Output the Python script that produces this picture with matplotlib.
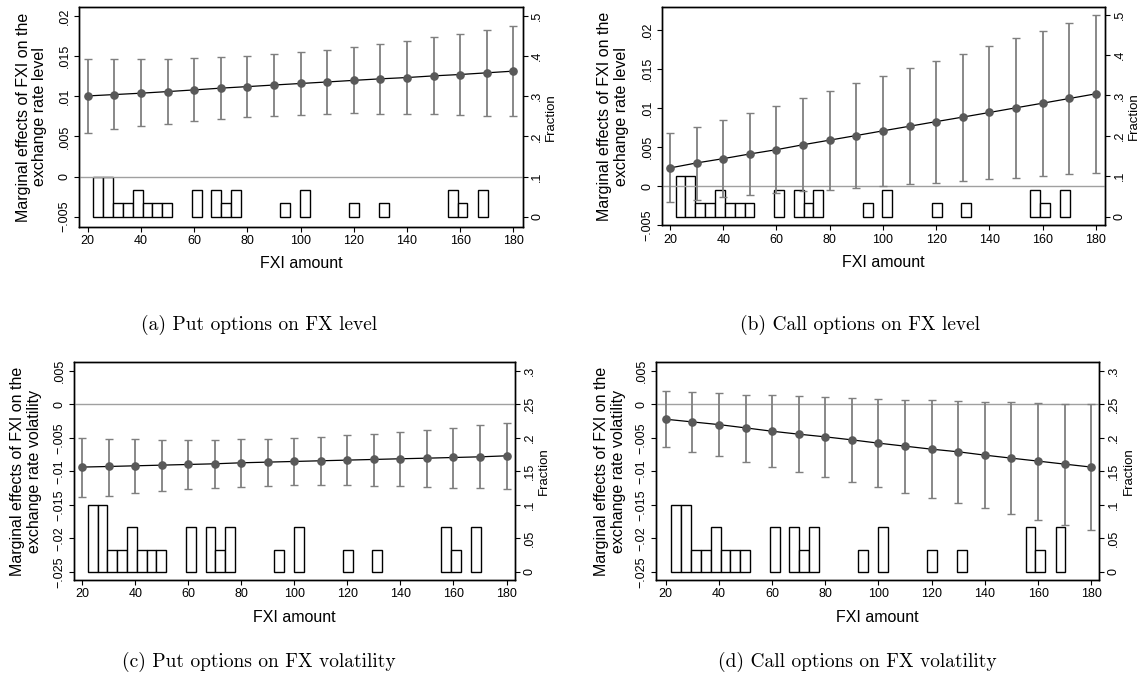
import matplotlib
matplotlib.use('Agg')
import matplotlib.pyplot as plt
from matplotlib.ticker import FuncFormatter
import numpy as np

plt.rcParams['font.family'] = ['Liberation Sans', 'DejaVu Sans']

# FXI amount grid for the marginal effects
fxi = [20, 30, 40, 50, 60, 70, 80, 90, 100, 110, 120, 130, 140, 150, 160, 170, 180]

# histogram of FXI amount (fraction of observations), same in every panel
hist_mid = [23.95, 27.65, 31.35, 35.05, 38.75, 42.45, 46.15, 49.85, 60.95, 68.35,
            72.05, 75.75, 94.25, 101.65, 120.15, 131.25, 157.15, 160.85, 168.45]
hist_frac = [0.1, 0.1, 0.0333, 0.0333, 0.0667, 0.0333, 0.0333, 0.0333, 0.0667, 0.0667,
             0.0333, 0.0667, 0.0333, 0.0667, 0.0333, 0.0333, 0.0667, 0.0333, 0.0667]
bin_w = 3.7

# (a) put options, FX level
put_lvl = [0.01004, 0.01021, 0.01038, 0.01058, 0.01079, 0.01101, 0.01120, 0.01140, 0.01159,
           0.01178, 0.01198, 0.01217, 0.01233, 0.01254, 0.01271, 0.01292, 0.01313]
put_lvl_lo = [0.00546, 0.00588, 0.00625, 0.00658, 0.00688, 0.00721, 0.00742, 0.00754, 0.00767,
              0.00779, 0.00788, 0.00783, 0.00779, 0.00775, 0.00767, 0.00758, 0.00750]
put_lvl_hi = [0.01463, 0.01458, 0.01458, 0.01463, 0.01475, 0.01488, 0.01500, 0.01525, 0.01554,
              0.01579, 0.01613, 0.01654, 0.01688, 0.01733, 0.01779, 0.01829, 0.01879]

# (b) call options, FX level
call_lvl = [0.00234, 0.00298, 0.00353, 0.00413, 0.00468, 0.00531, 0.00590, 0.00649, 0.00709,
            0.00768, 0.00827, 0.00885, 0.00944, 0.01004, 0.01063, 0.01123, 0.01183]
call_lvl_lo = [-0.00206, -0.00175, -0.00143, -0.00115, -0.00087, -0.00065, -0.00042, -0.00019, 0.00005,
               0.00024, 0.00047, 0.00067, 0.00087, 0.00107, 0.00131, 0.00151, 0.00175]
call_lvl_hi = [0.00675, 0.00762, 0.00853, 0.00940, 0.01032, 0.01127, 0.01222, 0.01317, 0.01413,
               0.01512, 0.01607, 0.01698, 0.01798, 0.01897, 0.01992, 0.02091, 0.02194]

# (c) put options, FX volatility
put_vol = [-0.00937, -0.00928, -0.00918, -0.00908, -0.00898, -0.00888, -0.00873, -0.00863, -0.00853,
           -0.00843, -0.00833, -0.00823, -0.00813, -0.00804, -0.00794, -0.00784, -0.00769]
put_vol_lo = [-0.01384, -0.01364, -0.01320, -0.01290, -0.01265, -0.01245, -0.01230, -0.01220, -0.01210,
              -0.01210, -0.01210, -0.01215, -0.01220, -0.01230, -0.01245, -0.01255, -0.01270]
put_vol_hi = [-0.00501, -0.00511, -0.00516, -0.00531, -0.00531, -0.00531, -0.00521, -0.00516, -0.00501,
              -0.00486, -0.00461, -0.00437, -0.00412, -0.00377, -0.00347, -0.00308, -0.00273]

# (d) call options, FX volatility
call_vol = [-0.00223, -0.00263, -0.00303, -0.00352, -0.00402, -0.00446, -0.00486, -0.00531, -0.00580,
            -0.00625, -0.00670, -0.00709, -0.00759, -0.00804, -0.00848, -0.00893, -0.00937]
call_vol_lo = [-0.00640, -0.00709, -0.00779, -0.00858, -0.00933, -0.01007, -0.01086, -0.01161, -0.01235,
               -0.01319, -0.01394, -0.01478, -0.01553, -0.01637, -0.01721, -0.01800, -0.01880]
call_vol_hi = [0.00198, 0.00179, 0.00164, 0.00144, 0.00134, 0.00124, 0.00109, 0.00094, 0.00079,
               0.00069, 0.00060, 0.00050, 0.00040, 0.00030, 0.00020, 0.00010, 0.00005]

xticks = [20, 40, 60, 80, 100, 120, 140, 160, 180]
lvl_ticks = [-0.005, 0, 0.005, 0.01, 0.015, 0.02]
vol_ticks = [-0.025, -0.02, -0.015, -0.01, -0.005, 0, 0.005]
frac_ticks_lvl = [0, 0.1, 0.2, 0.3, 0.4, 0.5]
frac_ticks_vol = [0, 0.05, 0.1, 0.15, 0.2, 0.25, 0.3]

W, H = 1140, 687


def stata(v, pos=None):
    # Stata style labels: .005, -.01, 0
    s = f"{v:g}"
    s = s.replace("0.", ".").replace("-", "\u2212")
    return s


def fpos(l, t, r, b):
    return [l / W, 1 - b / H, (r - l) / W, (b - t) / H]


fig = plt.figure(figsize=(W / 100, H / 100), dpi=100)


def panel(box, est, lo, hi, xlim, ylim, yticks, rlim, rticks, ylab, ylab_x, frac_x, cap, cap_xy):
    l, t, r, b = box
    ax = fig.add_axes(fpos(l, t, r, b))
    ax2 = ax.twinx()
    ax.set_zorder(ax2.get_zorder() + 1)
    ax.patch.set_visible(False)

    ax2.bar(hist_mid, hist_frac, width=bin_w, color='white', edgecolor='black', lw=1.0)
    ax2.set_ylim(rlim)
    ax2.set_yticks(rticks)
    ax2.yaxis.set_major_formatter(FuncFormatter(stata))

    ax.axhline(0, color='#a0a0a0', lw=1.0, zorder=1)
    est = np.array(est)
    ax.errorbar(fxi, est, yerr=[est - np.array(lo), np.array(hi) - est], fmt='none',
                ecolor='#7f7f7f', elinewidth=1.3, capsize=3.2, capthick=1.0, zorder=2)
    ax.plot(fxi, est, color='black', lw=0.9, zorder=3)
    ax.plot(fxi, est, 'o', color='#595959', ms=5.2, mec='#595959', zorder=4)

    ax.set_xlim(xlim)
    ax.set_ylim(ylim)
    ax.set_xticks(xticks)
    ax.set_yticks(yticks)
    ax.yaxis.set_major_formatter(FuncFormatter(stata))

    for a in (ax, ax2):
        for s in a.spines.values():
            s.set_linewidth(1.0)
        a.tick_params(length=3.6, width=0.8, labelsize=9, pad=2.5)
    for lab in ax.get_yticklabels() + ax2.get_yticklabels():
        lab.set_rotation(90)
        lab.set_va('center')

    yc = (t + b) / 2
    fig.text(ylab_x / W, 1 - yc / H, ylab, rotation=90, ha='center', va='center',
             fontsize=11.5, linespacing=1.15)
    fig.text(frac_x / W, 1 - yc / H, 'Fraction', rotation=90, ha='center', va='center',
             fontsize=9.5)
    fig.text(((l + r) / 2) / W, 1 - (b + 37) / H, 'FXI amount', ha='center', va='center',
             fontsize=11.5)
    fig.text(cap_xy[0] / W, 1 - cap_xy[1] / H, cap, ha='center', va='center',
             fontsize=14, family='cmr10')


lvl_lab = 'Marginal effects of FXI on the\nexchange rate level'
vol_lab = 'Marginal effects of FXI on the\nexchange rate volatility'

panel((79, 7, 522.7, 227), put_lvl, put_lvl_lo, put_lvl_hi, (16.73, 183.5),
      (-0.00629, 0.02112), lvl_ticks, (-0.0258, 0.5224), frac_ticks_lvl,
      lvl_lab, 31.5, 551, '(a) Put options on FX level', (259, 325))
panel((662, 7.3, 1105, 225.3), call_lvl, call_lvl_lo, call_lvl_hi, (17.0, 183.4),
      (-0.00305, 0.0229), lvl_ticks, (-0.0213, 0.5183), frac_ticks_lvl,
      lvl_lab, 613, 1134, '(b) Call options on FX level', (860, 325))
panel((74, 362, 515, 580), put_vol, put_vol_lo, put_vol_hi, (16.9, 183.2),
      (-0.02622, 0.00631), vol_ticks, (-0.0122, 0.3131), frac_ticks_vol,
      vol_lab, 26, 544, '(c) Put options on FX volatility', (259, 662))
panel((656, 362, 1099, 580), call_vol, call_vol_lo, call_vol_hi, (16.35, 182.9),
      (-0.02622, 0.00631), vol_ticks, (-0.0122, 0.3131), frac_ticks_vol,
      vol_lab, 610, 1129, '(d) Call options on FX volatility', (857, 662))

fig.savefig('out.png', dpi=100)
